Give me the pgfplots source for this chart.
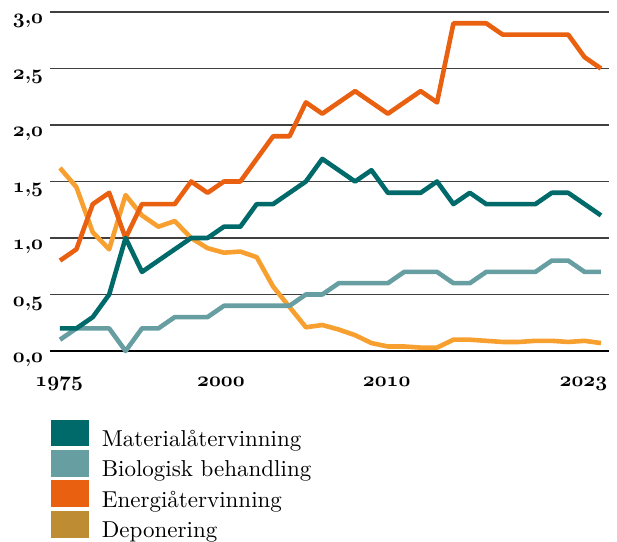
\documentclass[border=0pt]{standalone}
\usepackage{pgfplots}
\usepackage{pgfplotstable}
\pgfplotsset{compat=1.18}
\definecolor{cMat}{RGB}{0,106,106}
\definecolor{cBio}{RGB}{102,158,161}
\definecolor{cEne}{RGB}{232,96,16}
\definecolor{cDep}{RGB}{247,160,48}
\definecolor{cDepLeg}{RGB}{190,140,50}
\font\legfont="[lmroman10-regular]:mapping=tex-text" at 23bp
\newcommand\osn[1]{{\usefont{OML}{cmm}{b}{it}#1}}
\pgfplotsset{swatch/.style={legend image code/.code={\fill[##1, draw=none] (0bp,-7bp) rectangle (38.6bp,19.7bp);}}}
\pgfplotstableread{
i mat bio ene dep
0 0.2 0.1 0.8 1.62
1 0.2 0.2 0.9 1.45
2 0.3 0.2 1.3 1.05
3 0.5 0.2 1.4 0.90
4 1.0 0.0 1.0 1.38
5 0.7 0.2 1.3 1.20
6 0.8 0.2 1.3 1.10
7 0.9 0.3 1.3 1.15
8 1.0 0.3 1.5 1.00
9 1.0 0.3 1.4 0.91
10 1.1 0.4 1.5 0.87
11 1.1 0.4 1.5 0.88
12 1.3 0.4 1.7 0.83
13 1.3 0.4 1.9 0.57
14 1.4 0.4 1.9 0.39
15 1.5 0.5 2.2 0.21
16 1.7 0.5 2.1 0.23
17 1.6 0.6 2.2 0.19
18 1.5 0.6 2.3 0.14
19 1.6 0.6 2.2 0.07
20 1.4 0.6 2.1 0.04
21 1.4 0.7 2.2 0.04
22 1.4 0.7 2.3 0.03
23 1.5 0.7 2.2 0.03
24 1.3 0.6 2.9 0.10
25 1.4 0.6 2.9 0.10
26 1.3 0.7 2.9 0.09
27 1.3 0.7 2.8 0.08
28 1.3 0.7 2.8 0.08
29 1.3 0.7 2.8 0.09
30 1.4 0.8 2.8 0.09
31 1.4 0.8 2.8 0.08
32 1.3 0.7 2.6 0.09
33 1.2 0.7 2.5 0.07
}\data
\begin{document}
\begin{tikzpicture}
\useasboundingbox (0,0) rectangle (617bp,542bp);
\begin{axis}[
  at={(50bp,191bp)}, anchor=south west,
  scale only axis, width=559bp, height=339bp,
  xmin=-0.61, xmax=33.49, ymin=0, ymax=3,
  clip=false,
  axis line style={draw=none},
  major tick length=0pt,
  ytick={0,0.5,1,1.5,2,2.5,3},
  yticklabels={{\osn{0},\osn{0}},{\osn{0},\osn{5}},{\osn{1},\osn{0}},{\osn{1},\osn{5}},{\osn{2},\osn{0}},{\osn{2},\osn{5}},{\osn{3},\osn{0}}},
  ymajorgrids, grid style={line width=1.3bp, black!75},
  extra y ticks={0}, extra y tick labels={},
  extra y tick style={grid style={line width=2.6bp, black}},
  xtick={-0.05,9.82,19.93,31.93},
  xticklabels={\osn{1975},\osn{2000},\osn{2010},\osn{2023}},
  tick label style={font=\fontsize{20.74}{24}\selectfont\bfseries},
  yticklabel style={anchor=base east, inner sep=0pt, xshift=-6.7bp, yshift=-11.5bp},
  xticklabel style={anchor=base, inner sep=0pt, yshift=-35bp},
  legend style={at={(0,0)}, anchor=north west, xshift=0.7bp, yshift=-68.3bp,
    draw=none, fill=none, inner sep=0pt, row sep=2bp, column sep=12.4bp,
    nodes={inner sep=0pt}, font=\legfont},
  legend cell align=left,
  every axis plot/.append style={line width=4.6bp, line join=round},
]
\addlegendimage{swatch, fill=cMat}
\addlegendentry{Materialåtervinning}
\addlegendimage{swatch, fill=cBio}
\addlegendentry{Biologisk behandling}
\addlegendimage{swatch, fill=cEne}
\addlegendentry{Energiåtervinning}
\addlegendimage{swatch, fill=cDepLeg}
\addlegendentry{Deponering}
\addplot[cDep, forget plot] table[x=i, y=dep] {\data};
\addplot[cEne, forget plot] table[x=i, y=ene] {\data};
\addplot[cBio, forget plot] table[x=i, y=bio] {\data};
\addplot[cMat, forget plot] table[x=i, y=mat] {\data};
\end{axis}
\end{tikzpicture}
\end{document}
